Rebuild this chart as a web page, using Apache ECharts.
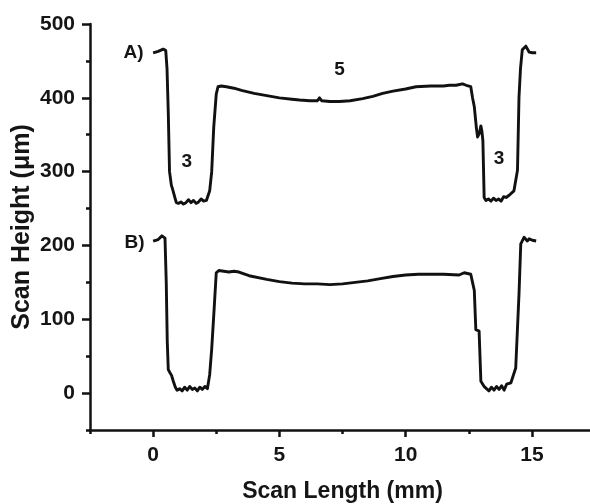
<!DOCTYPE html>
<html><head><meta charset="utf-8">
<script src="https://cdn.jsdelivr.net/npm/echarts@6/dist/echarts.min.js"></script>
<style>html,body{margin:0;padding:0;background:#fff}#c{width:590px;height:504px}</style>
</head><body><div id="c"></div>
<script>
// Scan A profile
const scanA_x = [0.0,0.2,0.4,0.5,0.55,0.6,0.65,0.72,0.79,0.86,0.92,1.0,1.1,1.2,1.3,1.4,1.5,1.6,1.7,1.8,1.9,2.0,2.11,2.24,2.32,2.4,2.5,2.57,2.7,2.9,3.2,3.5,4.0,4.5,5.0,5.5,5.8,6.2,6.5,6.59,6.68,7.0,7.38,7.8,8.3,8.7,9.09,9.5,10.0,10.41,11.0,11.5,11.73,12.0,12.25,12.4,12.58,12.65,12.72,12.8,12.85,12.92,12.98,13.02,13.06,13.11,13.18,13.28,13.38,13.48,13.58,13.68,13.78,13.88,13.98,14.1,14.29,14.43,14.49,14.55,14.62,14.76,14.89,15.02,15.17];
const scanA_y = [461,463,466,464,440,380,300,282,274,265,258,257,259,256,258,262,258,261,257,259,263,260,261,274,300,360,405,415,416,415,413,410,406,403,400,398,397,396,396,400,396,395,395,396,399,402,406,409,412,415,416,416,417,417,419,417,415,400,388,360,347,352,362,355,342,265,261,263,260,264,261,263,260,266,265,268,274,302,401,440,465,470,462,461,461];
// Scan B profile
const scanB_x = [0.0,0.2,0.35,0.47,0.52,0.56,0.6,0.66,0.73,0.8,0.88,0.95,1.05,1.15,1.25,1.35,1.45,1.55,1.65,1.75,1.85,1.95,2.05,2.15,2.24,2.32,2.42,2.5,2.6,2.8,3.0,3.2,3.4,3.8,4.5,5.0,5.5,6.0,6.5,7.0,7.5,8.0,8.5,9.0,9.5,10.0,10.5,11.0,11.5,12.12,12.32,12.58,12.65,12.72,12.78,12.91,12.98,13.11,13.2,13.3,13.4,13.5,13.6,13.7,13.8,13.9,14.0,14.17,14.36,14.49,14.56,14.69,14.82,14.89,15.02,15.17];
const scanB_y = [206,208,213,210,150,70,32,28,24,16,8,4,6,3,8,4,9,5,7,3,8,5,9,6,25,60,116,163,166,165,164,165,164,159,154,151,149,148,148,147,148,150,152,155,158,160,161,161,161,160,163,161,150,139,86,84,16,9,6,3,8,4,9,5,10,4,12,14,34,134,202,211,206,209,207,206];
// Annotations
const noteText = ['A)', 'B)', '3', '5', '3'];
const noteX = [-0.78, -0.74, 1.33, 7.38, 13.7];
const noteY = [461, 203, 314, 438, 317];
// Ticks
const xMajor = [0, 5, 10, 15];
const xMinor = [-2.5, 2.5, 7.5, 12.5];
const yMajor = [0, 100, 200, 300, 400, 500];
const yMinor = [-50, 50, 150, 250, 350, 450];

const zip = (a, b) => a.map((v, i) => [v, b[i]]);
const txt = '#151515';
const font = 'Liberation Sans, Arial, sans-serif';
const lineCol = '#111';

const chart = echarts.init(document.getElementById('c'));
const baseX = {
  type: 'value', min: -2.5, max: 17.5, position: 'bottom',
  splitLine: { show: false },
};
const baseY = {
  type: 'value', min: -50, max: 500, position: 'left',
  splitLine: { show: false },
};
chart.setOption({
  animation: false,
  backgroundColor: '#fff',
  grid: { left: 90, right: -5, top: 24, bottom: 74, containLabel: false, outerBoundsMode: 'none' },
  xAxis: [
    Object.assign({}, baseX, {
      name: 'Scan Length (mm)', nameLocation: 'middle', nameGap: 50, nameMoveOverlap: false,
      nameTextStyle: { fontFamily: font, fontWeight: 'bold', fontSize: 23, color: txt },
      axisLine: { show: true, onZero: false, lineStyle: { color: lineCol, width: 2.5 } },
      axisTick: { show: true, inside: false, length: 7, customValues: xMajor, lineStyle: { color: lineCol, width: 2.5 } },
      axisLabel: { show: true, customValues: xMajor, margin: 15, fontFamily: font, fontWeight: 'bold', fontSize: 21, color: txt },
    }),
    Object.assign({}, baseX, {
      axisLine: { show: false, onZero: false },
      axisTick: { show: true, inside: false, length: 4, customValues: xMinor, lineStyle: { color: lineCol, width: 2.5 } },
      axisLabel: { show: false },
    }),
  ],
  yAxis: [
    Object.assign({}, baseY, {
      name: 'Scan Height (μm)', nameLocation: 'middle', nameGap: 55, nameRotate: 90, nameMoveOverlap: false,
      nameTextStyle: { fontFamily: font, fontWeight: 'bold', fontSize: 25, color: txt },
      axisLine: { show: true, onZero: false, lineStyle: { color: lineCol, width: 2.5 } },
      axisTick: { show: true, inside: false, length: 8, customValues: yMajor, lineStyle: { color: lineCol, width: 2.5 } },
      axisLabel: { show: true, customValues: yMajor, margin: 15, fontFamily: font, fontWeight: 'bold', fontSize: 21, color: txt },
    }),
    Object.assign({}, baseY, {
      axisLine: { show: false, onZero: false },
      axisTick: { show: true, inside: false, length: 4, customValues: yMinor, lineStyle: { color: lineCol, width: 2.5 } },
      axisLabel: { show: false },
    }),
  ],
  series: [
    { type: 'line', data: zip(scanA_x, scanA_y), showSymbol: false, symbol: 'none',
      lineStyle: { color: '#111', width: 2.9, join: 'round' }, smooth: false },
    { type: 'line', data: zip(scanB_x, scanB_y), showSymbol: false, symbol: 'none',
      lineStyle: { color: '#111', width: 2.9, join: 'round' }, smooth: false },
    { type: 'scatter', symbolSize: 0, itemStyle: { opacity: 1 },
      data: noteX.map((x, i) => ({ value: [x, noteY[i]], name: noteText[i] })),
      label: { show: true, position: 'inside', formatter: p => p.name,
        fontFamily: font, fontWeight: 'bold', fontSize: 19, color: txt } },
  ],
});
</script></body></html>
